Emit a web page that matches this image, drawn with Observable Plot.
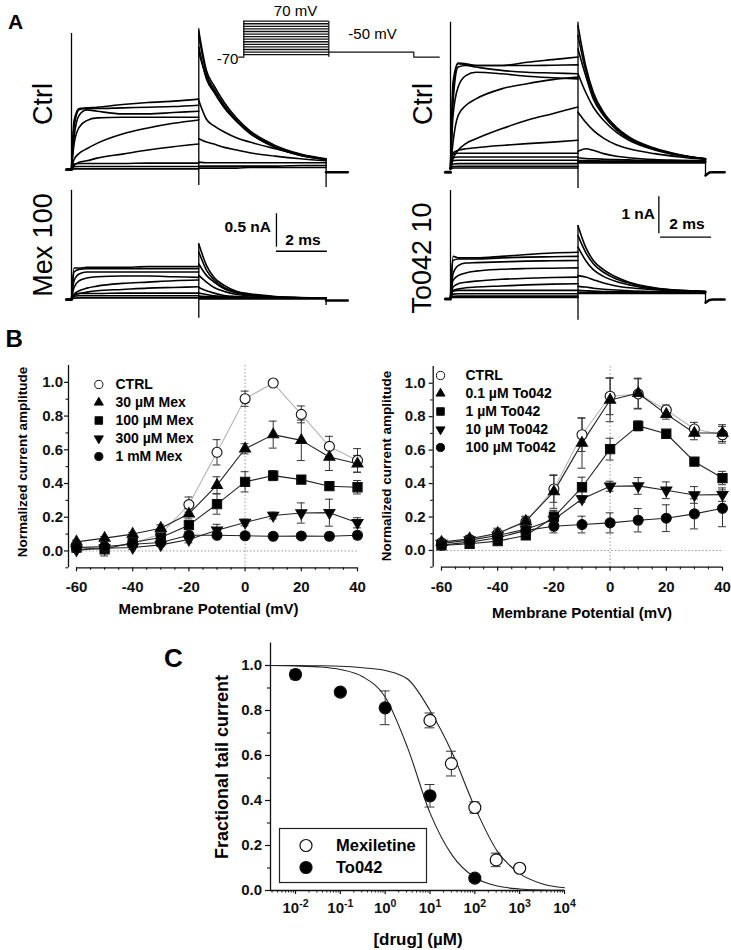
<!DOCTYPE html>
<html><head><meta charset="utf-8">
<script src="https://cdn.jsdelivr.net/npm/d3@7"></script>
<script src="https://cdn.jsdelivr.net/npm/@observablehq/plot@0.6"></script>
<style>
html,body{margin:0;padding:0;background:#fff;}
#fig{position:relative;width:731px;height:950px;overflow:hidden;font-family:"Liberation Sans",Arial,Helvetica,sans-serif;color:#000;}
.lbl{position:absolute;line-height:1;white-space:nowrap;}
</style></head>
<body><div id="fig"></div>
<script>
// ---------------- DATA ----------------
// Panel A: sampled current traces (nA) at these times (ms)
const tStep = [0, 0.1, 0.3, 0.6, 1, 2, 3, 4, 5];
const tTail = [5, 5.3, 5.6, 6, 6.5, 7, 8, 9, 10];

const mexCtrlStep = [
  [0,0.73,0.91,0.92,0.93,0.97,1.00,1.02,1.05],
  [0,0.63,0.89,0.91,0.91,0.92,0.93,0.94,0.96],
  [0,0.48,0.81,0.89,0.87,0.83,0.83,0.85,0.87],
  [0,0.38,0.63,0.73,0.77,0.78,0.78,0.78,0.78],
  [0,0.15,0.24,0.31,0.39,0.53,0.62,0.69,0.74],
  [0,0.06,0.11,0.13,0.17,0.23,0.29,0.34,0.38],
  [0,0.08,0.09,0.09,0.09,0.09,0.095,0.095,0.095],
  [0,0.04,0.045,0.045,0.045,0.045,0.045,0.045,0.045],
  [0,0.01,0.01,0.01,0.01,0.01,0.01,0.01,0.01]
];
const mexCtrlTail = [
  [2.07,1.48,1.25,1.00,0.76,0.58,0.36,0.23,0.16],
  [2.00,1.43,1.20,0.96,0.73,0.56,0.34,0.22,0.15],
  [1.83,1.35,1.15,0.92,0.71,0.54,0.33,0.21,0.15],
  [1.03,0.75,0.65,0.56,0.47,0.41,0.31,0.22,0.15],
  [1.75,1.38,1.17,0.93,0.72,0.55,0.33,0.21,0.15],
  [0.46,0.41,0.38,0.33,0.29,0.25,0.20,0.16,0.13],
  [0.11,0.10,0.10,0.10,0.10,0.10,0.10,0.10,0.10],
  [0.05,0.05,0.05,0.05,0.05,0.05,0.05,0.06,0.06],
  [0.02,0.02,0.02,0.02,0.02,0.03,0.03,0.03,0.03]
];
const mexCtrlTrans = [[0,0,2.03],[5,-0.24,2.1],[10,-0.27,0.16]];
const mexCtrlBefore = [[-0.2,0],[0,0]];
const mexCtrlAfter = [[10,-0.04],[10.85,-0.04]];

const mex100Step = [
  [0,0.47,0.47,0.48,0.48,0.48,0.49,0.49,0.49],
  [0,0.41,0.45,0.46,0.46,0.46,0.46,0.46,0.46],
  [0,0.28,0.38,0.41,0.41,0.41,0.41,0.41,0.41],
  [0,0.18,0.28,0.32,0.34,0.35,0.35,0.34,0.33],
  [0,0.08,0.13,0.17,0.20,0.24,0.26,0.28,0.29],
  [0,0.06,0.09,0.11,0.13,0.15,0.17,0.18,0.19],
  [0,0.07,0.09,0.09,0.09,0.095,0.095,0.095,0.095],
  [0,0.05,0.055,0.055,0.055,0.055,0.055,0.055,0.055],
  [0,0.02,0.025,0.025,0.025,0.025,0.025,0.025,0.025]
];
const mex100Tail = [
  [0.83,0.51,0.33,0.21,0.12,0.085,0.045,0.03,0.02],
  [0.71,0.44,0.29,0.18,0.11,0.075,0.04,0.025,0.02],
  [0.53,0.36,0.26,0.16,0.095,0.065,0.035,0.025,0.02],
  [0.36,0.26,0.18,0.12,0.075,0.055,0.035,0.025,0.02],
  [0.18,0.13,0.095,0.06,0.045,0.035,0.025,0.02,0.02],
  [0.095,0.075,0.055,0.045,0.035,0.03,0.025,0.02,0.02],
  [0.05,0.045,0.04,0.035,0.03,0.025,0.02,0.02,0.02],
  [0.03,0.03,0.025,0.025,0.02,0.02,0.02,0.02,0.02],
  [0.01,0.01,0.01,0.01,0.01,0.01,0.01,0.01,0.01]
];
const mex100Trans = [[0,0,1.63],[5,-0.28,0.83],[10,-0.09,0.02]];
const mex100Before = [[-0.2,0],[0,0]];
const mex100After = [[10,-0.015],[10.85,-0.015]];

const toCtrlStep = [
  [0,2.34,2.86,2.84,2.79,2.79,2.88,2.95,3.02],
  [0,2.07,2.84,2.81,2.79,2.79,2.79,2.80,2.81],
  [0,1.80,2.75,2.79,2.75,2.66,2.61,2.59,2.57],
  [0,1.44,2.21,2.52,2.61,2.57,2.50,2.46,2.43],
  [0,0.72,1.44,1.71,1.89,2.16,2.30,2.41,2.48],
  [0,0.27,0.50,0.68,0.81,1.08,1.31,1.49,1.67],
  [0,0.43,0.50,0.54,0.57,0.63,0.68,0.72,0.77],
  [0,0.40,0.42,0.42,0.42,0.42,0.42,0.42,0.42],
  [0,0.30,0.32,0.32,0.32,0.32,0.32,0.32,0.32],
  [0,0.22,0.23,0.23,0.23,0.23,0.23,0.23,0.23],
  [0,0.13,0.14,0.14,0.14,0.14,0.14,0.14,0.14],
  [0,0.06,0.07,0.07,0.07,0.07,0.07,0.07,0.07],
  [0,0.02,0.02,0.02,0.02,0.02,0.02,0.02,0.02]
];
const toCtrlTail = [
  [3.87,2.79,2.07,1.53,1.13,0.86,0.56,0.38,0.27],
  [3.60,2.66,1.98,1.49,1.10,0.83,0.54,0.37,0.27],
  [3.24,2.52,1.89,1.44,1.06,0.81,0.53,0.36,0.27],
  [2.57,2.07,1.67,1.31,0.99,0.77,0.51,0.36,0.27],
  [1.53,1.26,1.04,0.83,0.65,0.54,0.41,0.32,0.25],
  [0.47,0.54,0.50,0.41,0.34,0.30,0.25,0.23,0.21],
  [0.30,0.28,0.27,0.26,0.25,0.24,0.22,0.21,0.20],
  [0.22,0.22,0.22,0.21,0.21,0.21,0.20,0.20,0.20],
  [0.20,0.20,0.20,0.20,0.20,0.20,0.20,0.20,0.20],
  [0.18,0.18,0.18,0.18,0.18,0.18,0.18,0.18,0.18],
  [0.16,0.16,0.16,0.16,0.16,0.16,0.16,0.16,0.16]
];
const toCtrlTrans = [[0,-0.05,3.96],[5,-0.53,3.96],[10,-0.18,0.27]];
const toCtrlBefore = [[-0.2,-0.09],[0,-0.09]];
const toCtrlAfter = [[10,-0.18],[10.15,-0.1],[10.3,-0.09],[10.75,-0.09]];

const to10Step = [
  [0,1.12,1.08,1.08,1.08,1.12,1.17,1.21,1.23],
  [0,1.01,1.05,1.05,1.05,1.08,1.10,1.11,1.12],
  [0,0.65,0.87,0.94,0.95,0.97,0.99,1.00,1.01],
  [0,0.47,0.60,0.67,0.72,0.77,0.79,0.80,0.81],
  [0,0.29,0.38,0.42,0.45,0.50,0.53,0.55,0.56],
  [0,0.20,0.24,0.27,0.29,0.32,0.35,0.37,0.38],
  [0,0.18,0.20,0.20,0.20,0.20,0.20,0.20,0.20],
  [0,0.10,0.11,0.11,0.11,0.11,0.11,0.11,0.11],
  [0,0.04,0.045,0.045,0.045,0.045,0.045,0.045,0.045],
  [0,0.01,0.01,0.01,0.01,0.01,0.01,0.01,0.01]
];
const to10Tail = [
  [1.95,1.37,1.01,0.76,0.56,0.42,0.27,0.20,0.17],
  [1.68,1.23,0.92,0.69,0.51,0.40,0.26,0.20,0.17],
  [1.37,1.01,0.76,0.58,0.44,0.35,0.24,0.19,0.17],
  [0.60,0.56,0.49,0.40,0.32,0.27,0.22,0.18,0.16],
  [0.31,0.29,0.26,0.23,0.21,0.19,0.17,0.16,0.15],
  [0.20,0.19,0.18,0.17,0.16,0.16,0.15,0.15,0.15],
  [0.15,0.15,0.15,0.15,0.15,0.15,0.15,0.15,0.15],
  [0.12,0.12,0.12,0.12,0.12,0.12,0.12,0.12,0.12]
];
const to10Trans = [[0,0,2.9],[5,-0.61,1.95],[10,-0.13,0.17]];
const to10Before = [[-0.2,-0.03],[0,-0.03]];
const to10After = [[10,-0.13],[10.15,-0.06],[10.3,-0.045],[10.75,-0.045]];

// voltage protocol (mV)
const protoSteps = [-60,-50,-40,-30,-20,-10,0,10,20,30,40,50,60,70];
const protoHold = -70;
const protoTailV = -50;

// Panel B
const vm = [-60,-50,-40,-30,-20,-10,0,10,20,30,40];
const mexNames = ["CTRL","30 µM Mex","100 µM Mex","300 µM Mex","1 mM Mex"];
const mexCtrl  = [0.02,0.02,0.045,0.10,0.275,0.585,0.903,0.996,0.81,0.62,0.537];
const mex30    = [0.054,0.076,0.10,0.135,0.22,0.39,0.606,0.69,0.656,0.557,0.517];
const mex100v  = [0.02,0.01,0.05,0.08,0.153,0.278,0.41,0.447,0.423,0.384,0.378];
const mex300   = [0.005,0.016,0.02,0.036,0.068,0.123,0.169,0.21,0.225,0.227,0.167];
const mex1000  = [0.02,0.026,0.04,0.05,0.093,0.093,0.09,0.087,0.089,0.087,0.093];
const mexCtrlErr = [0,0,0.01,0.02,0.045,0.075,0.045,0,0.05,0.06,0.07];
const mex30Err   = [0.01,0.01,0.01,0.02,0.03,0.05,0.03,0.08,0.12,0.08,0.05];
const mex100Err  = [0.01,0.04,0.01,0.01,0.02,0.06,0.06,0.03,0.01,0.02,0.04];
const mex300Err  = [0.01,0.01,0.01,0.01,0.02,0.035,0.02,0.02,0.06,0.08,0.03];
const mex1000Err = [0.01,0.01,0.01,0.01,0.02,0.015,0.01,0.01,0.015,0.015,0.02];

const toNames = ["CTRL","0.1 µM To042","1 µM To042","10 µM To042","100 µM To042"];
const toCtrl = [0.046,0.066,0.10,0.17,0.368,0.692,0.922,0.936,0.84,0.726,0.692];
const to01   = [0.05,0.07,0.103,0.175,0.352,0.642,0.90,0.94,0.815,0.702,0.702];
const to1    = [0.03,0.04,0.056,0.09,0.20,0.378,0.606,0.745,0.698,0.531,0.433];
const to10v  = [0.042,0.062,0.09,0.127,0.185,0.308,0.384,0.386,0.36,0.332,0.334];
const to100  = [0.032,0.05,0.076,0.12,0.145,0.155,0.165,0.181,0.193,0.219,0.252];
const toCtrlErr = [0.01,0.01,0.02,0.03,0.08,0.10,0.11,0.09,0.03,0.04,0.05];
const to01Err   = [0.01,0.02,0.03,0.03,0.10,0.15,0.13,0.09,0.03,0.04,0.05];
const to1Err    = [0.01,0.01,0.01,0.02,0.04,0.06,0.065,0.03,0.01,0.01,0.04];
const to10Err   = [0.01,0.01,0.02,0.02,0.05,0.02,0.03,0.05,0.05,0.05,0.04];
const to100Err  = [0.01,0.01,0.02,0.02,0.04,0.05,0.06,0.07,0.08,0.09,0.11];

const ivTicksX = [-60,-40,-20,0,20,40];
const ivMinorX = [-55,-50,-45,-35,-30,-25,-15,-10,-5,5,10,15,25,30,35];
const ivTicksY = [0,0.2,0.4,0.6,0.8,1.0];
const ivMinorY = [-0.1,0.1,0.3,0.5,0.7,0.9];

// Panel C
const drugNames = ["Mexiletine","To042"];
const mexConc = [10,30,100,300,1000];
const mexFrac = [0.756,0.564,0.369,0.136,0.099];
const mexFracErr = [0.033,0.055,0.025,0.03,0];
const toConc = [0.01,0.1,1,10,100];
const toFrac = [0.96,0.882,0.812,0.421,0.055];
const toFracErr = [0.02,0.015,0.075,0.05,0];
const fitConc = [0.00277,0.01,0.0316,0.1,0.316,1,3.16,10,31.6,100,316,1000,3162,10000];
const mexFit  = [1.0,1.0,0.999,0.997,0.99,0.978,0.94,0.80,0.61,0.37,0.175,0.075,0.03,0.012];
const toFit   = [1.0,0.998,0.994,0.982,0.95,0.86,0.635,0.345,0.155,0.058,0.02,0.007,0.002,0.001];
const concDomain = [0.00277, 10000];
const concTicks = [0.01,0.1,1,10,100,1000,10000];
const concTickExp = ["-2","-1","0","1","2","3","4"];
const fracTicks = [0,0.2,0.4,0.6,0.8,1.0];
const fracMinor = [0.1,0.3,0.5,0.7,0.9];

// ---------------- DRAWING ----------------
const fig = document.getElementById("fig");
const FONT = '"Liberation Sans", Arial, Helvetica, sans-serif';
function overlay(opts, extraStyle = {}) {
  const svg = Plot.plot({
    width: 731, height: 950,
    marginTop: 0, marginRight: 0, marginBottom: 0, marginLeft: 0,
    ...opts,
    style: {position: "absolute", left: "0px", top: "0px", background: "transparent",
      overflow: "visible", fontFamily: FONT, fontWeight: "bold", fontSize: "15px", color: "#111", ...extraStyle}
  });
  fig.appendChild(svg);
  return svg;
}
function label(text, x, y, {size = 15, weight = "bold", anchor = "middle", rotate = 0} = {}) {
  const d = document.createElement("div");
  d.className = "lbl";
  d.textContent = text;
  d.style.left = x + "px"; d.style.top = y + "px";
  d.style.fontSize = size + "px"; d.style.fontWeight = weight;
  const tx = anchor === "start" ? "0" : anchor === "end" ? "-100%" : "-50%";
  d.style.transform = `translate(${tx}, -50%)` + (rotate ? ` rotate(${rotate}deg)` : "");
  fig.appendChild(d);
}

// ---- Panel A traces ----
function tracePanel({step, tail, trans, before, after, xr, yBase, pxPerNA, extra = []}) {
  const rows = [];
  step.forEach((vals, i) => tStep.forEach((t, j) => rows.push({id: "s" + i, t, I: vals[j]})));
  tail.forEach((vals, i) => tTail.forEach((t, j) => rows.push({id: "t" + i, t, I: vals[j]})));
  const tr = trans.map(([t, lo, hi]) => ({t, lo, hi}));
  const pre = before.map(([t, I]) => ({t, I}));
  const post = after.map(([t, I]) => ({t, I}));
  overlay({
    x: {domain: [0, 5], range: xr, axis: null},
    y: {domain: [0, 1], range: [yBase, yBase - pxPerNA], axis: null},
    marks: [
      Plot.line(rows, {x: "t", y: "I", z: "id", stroke: "#000", strokeWidth: 1.6, curve: "monotone-x"}),
      Plot.ruleX(tr, {x: "t", y1: "lo", y2: "hi", stroke: "#000", strokeWidth: 1.3}),
      Plot.line(pre, {x: "t", y: "I", stroke: "#000", strokeWidth: 3}),
      Plot.line(post, {x: "t", y: "I", stroke: "#000", strokeWidth: 2.5}),
      ...extra
    ]
  });
}
tracePanel({step: mexCtrlStep, tail: mexCtrlTail, trans: mexCtrlTrans, before: mexCtrlBefore, after: mexCtrlAfter,
  xr: [71, 198.3], yBase: 169, pxPerNA: 67});
tracePanel({step: mex100Step, tail: mex100Tail, trans: mex100Trans, before: mex100Before, after: mex100After,
  xr: [71, 198.3], yBase: 299, pxPerNA: 67,
  extra: [
    Plot.ruleX([8.05], {y1: 0.78, y2: 0.78 + 0.5, stroke: "#000", strokeWidth: 1.3}),
    Plot.ruleY([0.72], {x1: 8.05, x2: 8.05 + 2, stroke: "#000", strokeWidth: 1.3})
  ]});
tracePanel({step: toCtrlStep, tail: toCtrlTail, trans: toCtrlTrans, before: toCtrlBefore, after: toCtrlAfter,
  xr: [450, 577.5], yBase: 168.3, pxPerNA: 37});
tracePanel({step: to10Step, tail: to10Tail, trans: to10Trans, before: to10Before, after: to10After,
  xr: [450, 577.5], yBase: 297.3, pxPerNA: 37,
  extra: [
    Plot.ruleX([8.17], {y1: 1.73, y2: 1.73 + 1, stroke: "#000", strokeWidth: 1.3}),
    Plot.ruleY([1.64], {x1: 8.24, x2: 8.24 + 2, stroke: "#000", strokeWidth: 1.3})
  ]});

// voltage protocol inset
overlay({
  x: {domain: [0, 5], range: [243.3, 328.3], axis: null},
  y: {domain: [-70, 70], range: [56.7, 20.7], axis: null},
  marks: [
    Plot.ruleY(protoSteps, {x1: 0, x2: 5, y: d => d, stroke: "#111", strokeWidth: 1.3}),
    Plot.ruleX([0, 5], {y1: protoHold, y2: 70, stroke: "#111", strokeWidth: 1.3}),
    Plot.line([{t: -0.3, v: protoHold}, {t: 0, v: protoHold}], {x: "t", y: "v", stroke: "#111", strokeWidth: 1.2}),
    Plot.line([{t: 5, v: protoTailV}, {t: 10, v: protoTailV}, {t: 10, v: protoHold}, {t: 11.5, v: protoHold}],
      {x: "t", y: "v", stroke: "#111", strokeWidth: 1.2})
  ]
});

// ---- Panel B ----
const symDefs = [
  {sym: "circle", rot: 0, fill: "white", line: "#b5b5b5", r: 5},
  {sym: "triangle", rot: 0, fill: "black", line: "#222", r: 4.1},
  {sym: "square", rot: 0, fill: "black", line: "#222", r: 5.2},
  {sym: "triangle", rot: 180, fill: "black", line: "#222", r: 4.1},
  {sym: "circle", rot: 0, fill: "black", line: "#222", r: 5}
];
function ivPanel({names, vals, errs, ml, xr, mt, mb, tickPad, legendRange, legendSym, legendText}) {
  const marks = [
    Plot.ruleY([0], {stroke: "#9a9a9a", strokeDasharray: "1.5,2", strokeWidth: 1}),
    Plot.ruleX([0], {stroke: "#9a9a9a", strokeDasharray: "1.5,2", strokeWidth: 1}),
    Plot.ruleY([-0.1], {x1: vm[0], x2: vm[vm.length - 1], stroke: "#111", strokeWidth: 1.3}),
    Plot.ruleX([vm[0]], {dx: -(xr[0] - ml), stroke: "#111", strokeWidth: 1.3}),
    Plot.axisY({anchor: "left", ticks: ivTicksY, tickSize: 4, tickPadding: tickPad, tickFormat: d3.format(".1f"), label: null, fontSize: 15, strokeWidth: 1.2}),
    Plot.axisY({anchor: "left", ticks: ivMinorY, tickSize: 2.5, tickFormat: () => "", label: null, strokeWidth: 1.1}),
    Plot.axisX({anchor: "bottom", ticks: ivTicksX, tickSize: 4, tickPadding: 10, tickFormat: d => String(d), label: null, fontSize: 15, strokeWidth: 1.2}),
    Plot.axisX({anchor: "bottom", ticks: ivMinorX, tickSize: 2.5, tickFormat: () => "", label: null, strokeWidth: 1.1})
  ];
  const series = names.map((name, si) => ({name, ...symDefs[si],
    rows: vm.map((v, i) => ({v, y: vals[si][i], e: errs[si][i]}))}));
  for (const s of series) marks.push(Plot.line(s.rows, {x: "v", y: "y", stroke: s.line, strokeWidth: 1.1}));
  for (const s of series) {
    const er = s.rows.filter(d => d.e > 0);
    marks.push(Plot.ruleX(er, {x: "v", y1: d => d.y - d.e, y2: d => d.y + d.e, stroke: "#333", strokeWidth: 1}));
    marks.push(Plot.ruleY(er, {y: d => d.y + d.e, x1: d => d.v - 1.4, x2: d => d.v + 1.4, stroke: "#333", strokeWidth: 1}));
    marks.push(Plot.ruleY(er, {y: d => d.y - d.e, x1: d => d.v - 1.4, x2: d => d.v + 1.4, stroke: "#333", strokeWidth: 1}));
  }
  for (const s of series) marks.push(Plot.dot(s.rows, {x: "v", y: "y", symbol: s.sym, rotate: s.rot, r: s.r, fill: s.fill, stroke: "#111", strokeWidth: 1.1}));
  overlay({
    marginLeft: ml, marginRight: 731 - xr[1], marginTop: mt, marginBottom: 950 - mb,
    x: {domain: [vm[0], vm[vm.length - 1]], range: xr},
    y: {domain: [-0.1, 1.1]},
    marks
  });
  // legend
  overlay({
    x: {axis: null},
    y: {type: "point", domain: names, range: legendRange, padding: 0, axis: null},
    marks: [
      ...series.map(s => Plot.dot([s], {y: "name", frameAnchor: "left", dx: legendSym, symbol: s.sym, rotate: s.rot, r: s.r * 0.82, fill: s.fill, stroke: "#111", strokeWidth: 1})),
      Plot.text(series, {y: "name", text: "name", frameAnchor: "left", dx: legendText, textAnchor: "start", fontSize: 14, fill: "#000"})
    ]
  });
}
ivPanel({names: mexNames, vals: [mexCtrl, mex30, mex100v, mex300, mex1000],
  errs: [mexCtrlErr, mex30Err, mex100Err, mex300Err, mex1000Err],
  ml: 68, xr: [76, 357], mt: 365, mb: 567.3, tickPad: 1.5,
  legendRange: [382.3, 456.7], legendSym: 98.3, legendText: 115});
ivPanel({names: toNames, vals: [toCtrl, to01, to1, to10v, to100],
  errs: [toCtrlErr, to01Err, to1Err, to10Err, to100Err],
  ml: 432.7, xr: [441, 722], mt: 366, mb: 566.7, tickPad: 3.5,
  legendRange: [373.3, 448.3], legendSym: 440, legendText: 465});

// ---- Panel C ----
const logMinor = [];
for (let e = -3; e <= 3; e++) for (let k = 2; k <= 9; k++) {
  const v = k * Math.pow(10, e);
  if (v >= concDomain[0] && v <= concDomain[1]) logMinor.push(v);
}
const mexRows = mexConc.map((c, i) => ({c, y: mexFrac[i], e: mexFracErr[i]}));
const toRows = toConc.map((c, i) => ({c, y: toFrac[i], e: toFracErr[i]}));
const fitRows = fitConc.flatMap((c, i) => [{c, y: mexFit[i], k: drugNames[0]}, {c, y: toFit[i], k: drugNames[1]}]);
function errMarks(rows) {
  const er = rows.filter(d => d.e > 0);
  return [
    Plot.ruleX(er, {x: "c", y1: d => d.y - d.e, y2: d => d.y + d.e, stroke: "#333", strokeWidth: 1}),
    Plot.ruleY(er, {y: d => d.y + d.e, x1: d => d.c / 1.29, x2: d => d.c * 1.29, stroke: "#333", strokeWidth: 1}),
    Plot.ruleY(er, {y: d => d.y - d.e, x1: d => d.c / 1.29, x2: d => d.c * 1.29, stroke: "#333", strokeWidth: 1})
  ];
}
const svgC = overlay({
  marginLeft: 270, marginRight: 731 - 564, marginTop: 642.5, marginBottom: 60,
  x: {type: "log", domain: concDomain},
  y: {domain: [0, 1.1]},
  marks: [
    Plot.ruleY([0], {stroke: "#111", strokeWidth: 1.3}),
    Plot.ruleX([concDomain[0]], {stroke: "#111", strokeWidth: 1.3}),
    Plot.axisY({anchor: "left", ticks: fracTicks, tickSize: 5, tickPadding: 3.5, tickFormat: d3.format(".1f"), label: null, fontSize: 15, strokeWidth: 1.2}),
    Plot.axisY({anchor: "left", ticks: fracMinor, tickSize: 3, tickFormat: () => "", label: null, strokeWidth: 1.1}),
    Plot.axisX({anchor: "bottom", ticks: concTicks, tickSize: 4, tickPadding: 8,
      tickFormat: (d) => "10^" + concTickExp[concTicks.indexOf(d)],
      label: null, fontSize: 15, strokeWidth: 1.2}),
    Plot.axisX({anchor: "bottom", ticks: logMinor, tickSize: 2.5, tickFormat: () => "", label: null, strokeWidth: 1}),
    Plot.line(fitRows, {x: "c", y: "y", z: "k", stroke: "#222", strokeWidth: 1.1, curve: "monotone-x"}),
    ...errMarks(mexRows), ...errMarks(toRows),
    Plot.dot(mexRows, {x: "c", y: "y", r: 6, fill: "white", stroke: "#111", strokeWidth: 1.2}),
    Plot.dot(toRows, {x: "c", y: "y", r: 6, fill: "black", stroke: "#111", strokeWidth: 1.2})
  ]
});
// turn "10^e" tick labels into a base with a real superscript
svgC.querySelectorAll("text").forEach(t => {
  const m = /^10\^(-?\d)$/.exec(t.textContent);
  if (!m) return;
  t.textContent = "10";
  const sup = document.createElementNS("http://www.w3.org/2000/svg", "tspan");
  sup.setAttribute("dy", "-6");
  sup.setAttribute("font-size", "10.5");
  sup.textContent = m[1];
  t.appendChild(sup);
});
// C legend (boxed)
{
  const lg = drugNames.map((name, i) => ({name, fill: i === 0 ? "white" : "black"}));
  const svg = Plot.plot({
    width: 149, height: 56, marginTop: 1, marginRight: 1, marginBottom: 1, marginLeft: 1,
    x: {axis: null},
    y: {type: "point", domain: drugNames, range: [18, 40], padding: 0, axis: null},
    style: {position: "absolute", left: "277.5px", top: "826.5px", background: "white", overflow: "visible",
      fontFamily: FONT, fontWeight: "bold", fontSize: "16.5px", color: "#111"},
    marks: [
      Plot.frame({stroke: "#222", strokeWidth: 1.2}),
      Plot.dot(lg, {y: "name", frameAnchor: "left", dx: 26.5, r: 6, fill: "fill", stroke: "#111", strokeWidth: 1.2}),
      Plot.text(lg, {y: "name", text: "name", frameAnchor: "left", dx: 56.5, textAnchor: "start", fontSize: 16.5, fill: "#000"})
    ]
  });
  fig.appendChild(svg);
}

// ---- text labels ----
label("A", 8, 20.5, {size: 21, anchor: "start"});
label("B", 5.5, 338.5, {size: 24, anchor: "start"});
label("C", 164, 657.5, {size: 26, anchor: "start"});
label("Ctrl", 43, 104, {size: 27, weight: "normal", rotate: -90});
label("Mex 100", 43, 244.5, {size: 27, weight: "normal", rotate: -90});
label("Ctrl", 422.5, 104, {size: 27, weight: "normal", rotate: -90});
label("To042 10", 422, 257.5, {size: 27, weight: "normal", rotate: -90});
label("70 mV", 295.5, 10, {size: 15, weight: "normal"});
label("-50 mV", 372.5, 33, {size: 15, weight: "normal"});
label("-70", 227.5, 58, {size: 15, weight: "normal"});
label("0.5 nA", 271, 227, {size: 15.5, anchor: "end"});
label("2 ms", 303, 240, {size: 15.5});
label("1 nA", 655, 213.5, {size: 15.5, anchor: "end"});
label("2 ms", 687, 223.5, {size: 15.5});
label("Membrane Potential (mV)", 208.5, 608.3, {size: 15});
label("Membrane Potential (mV)", 582, 612, {size: 15});
label("Normalized current amplitude", 23.3, 462, {size: 13.5, rotate: -90});
label("Normalized current amplitude", 386.7, 466, {size: 13.5, rotate: -90});
label("Fractional tail current", 221.5, 766.5, {size: 18, rotate: -90});
label("[drug] (µM)", 418, 939, {size: 17});
</script>
</body></html>
